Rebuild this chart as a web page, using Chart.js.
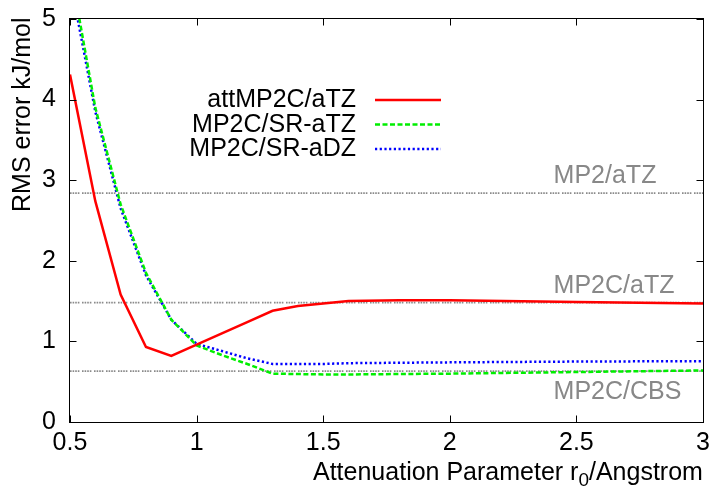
<!DOCTYPE html>
<html>
<head>
<meta charset="utf-8">
<script src="https://cdn.jsdelivr.net/npm/chart.js@4.4.1/dist/chart.umd.min.js"></script>
<style>
  html, body { margin: 0; padding: 0; background: #fff; }
  #wrap { width: 718px; height: 492px; }
</style>
</head>
<body>
<div id="wrap"><canvas id="myChart" width="718" height="492"></canvas></div>
<script>
// attenuation parameter r0 (Angstrom)
const rValues = [0.5, 0.6, 0.7, 0.8, 0.9, 1.0, 1.1, 1.2, 1.3, 1.4, 1.5, 1.6, 1.8, 2.0, 2.5, 3.0];

// RMS errors, kJ/mol
const attMP2C_aTZ = [4.31, 2.74, 1.58, 0.93, 0.82, 0.96, 1.10, 1.24, 1.38, 1.44, 1.47, 1.50, 1.51, 1.51, 1.49, 1.47];
const mp2cSR_aTZ = [5.65, 3.90, 2.70, 1.85, 1.27, 0.95, 0.83, 0.72, 0.60, 0.595, 0.59, 0.59, 0.595, 0.60, 0.62, 0.64];
const mp2cSR_aDZ = [5.50, 3.85, 2.65, 1.82, 1.27, 0.97, 0.88, 0.79, 0.72, 0.72, 0.72, 0.73, 0.735, 0.74, 0.75, 0.755];

const seriesNames = ['attMP2C/aTZ', 'MP2C/SR-aTZ', 'MP2C/SR-aDZ'];

// reference levels (horizontal lines)
const refNames = ['MP2/aTZ', 'MP2C/aTZ', 'MP2C/CBS'];
const refValues = [2.84, 1.48, 0.63];
const refLabelX = 2.41;

const xTicks = [0.5, 1, 1.5, 2, 2.5, 3];
const yTicks = [0, 1, 2, 3, 4, 5];

const FONT = '"Liberation Sans", Arial, sans-serif';

function pts(ys) {
    return rValues.map((x, i) => ({ x: x, y: ys[i] }));
}

const refDash = [1.6, 1, 1.6, 1, 1.6, 1, 1.6, 2.6];

const datasets = [
    { label: seriesNames[0], data: pts(attMP2C_aTZ), borderColor: '#ff0000', borderWidth: 2.5, borderDash: [] },
    { label: seriesNames[1], data: pts(mp2cSR_aTZ), borderColor: '#00ee00', borderWidth: 2.5, borderDash: [5, 2.5] },
    { label: seriesNames[2], data: pts(mp2cSR_aDZ), borderColor: '#0000ff', borderWidth: 2.5, borderDash: [2.2, 2.5] }
];
refValues.forEach((v, i) => {
    datasets.push({
        label: refNames[i],
        data: [{ x: xTicks[0], y: v }, { x: xTicks[xTicks.length - 1], y: v }],
        borderColor: '#8a8a8a',
        borderWidth: 1.8,
        borderDash: refDash
    });
});

// frame, inward ticks, labels, legend, axis titles
const decorations = {
    id: 'decorations',
    afterDatasetsDraw(chart) {
        const ctx = chart.ctx;
        const a = chart.chartArea;
        const xs = chart.scales.x;
        const ys = chart.scales.y;
        const L = Math.round(a.left) - 0.5, R = Math.round(a.right) + 0.5;
        const T = Math.round(a.top) - 0.5, B = Math.round(a.bottom) + 0.5;

        ctx.save();
        ctx.strokeStyle = '#000';
        ctx.lineWidth = 1;
        ctx.setLineDash([]);
        ctx.strokeRect(L, T, R - L, B - T);

        const tl = 7;
        ctx.beginPath();
        xTicks.forEach(v => {
            const px = Math.round(xs.getPixelForValue(v)) + 0.5;
            ctx.moveTo(px, B); ctx.lineTo(px, B - tl);
            ctx.moveTo(px, T); ctx.lineTo(px, T + tl);
        });
        yTicks.forEach(v => {
            const py = Math.round(ys.getPixelForValue(v)) + 0.5;
            ctx.moveTo(L, py); ctx.lineTo(L + tl, py);
            ctx.moveTo(R, py); ctx.lineTo(R - tl, py);
        });
        ctx.stroke();

        // reference labels
        ctx.font = '25px ' + FONT;
        ctx.fillStyle = '#888888';
        ctx.textAlign = 'left';
        ctx.textBaseline = 'alphabetic';
        refNames.forEach((name, i) => {
            const py = ys.getPixelForValue(refValues[i]);
            const above = i < 2;
            ctx.fillText(name, xs.getPixelForValue(refLabelX), above ? py - 10 : py + 28);
        });

        // legend
        ctx.fillStyle = '#000';
        ctx.textAlign = 'right';
        const rows = [100, 124.5, 149];
        for (let i = 0; i < 3; i++) {
            const ds = chart.data.datasets[i];
            ctx.fillText(ds.label, 356, rows[i] + 7);
            ctx.beginPath();
            ctx.strokeStyle = ds.borderColor;
            ctx.lineWidth = ds.borderWidth;
            ctx.setLineDash(ds.borderDash);
            ctx.moveTo(375, rows[i]);
            ctx.lineTo(441, rows[i]);
            ctx.stroke();
        }
        ctx.setLineDash([]);

        // y title
        ctx.save();
        ctx.translate(30, 212);
        ctx.rotate(-Math.PI / 2);
        ctx.textAlign = 'left';
        ctx.fillText('RMS error kJ/mol', 0, 0);
        ctx.restore();

        // x title with subscript
        ctx.textAlign = 'left';
        let x = 313;
        const base = 480;
        const p1 = 'Attenuation Parameter r';
        ctx.fillText(p1, x, base);
        x += ctx.measureText(p1).width;
        ctx.font = '19px ' + FONT;
        ctx.fillText('0', x, base + 6);
        x += ctx.measureText('0').width;
        ctx.font = '25px ' + FONT;
        ctx.fillText('/Angstrom', x, base);

        ctx.restore();
    }
};

new Chart(document.getElementById('myChart'), {
    type: 'line',
    data: { datasets: datasets },
    options: {
        responsive: false,
        animation: false,
        devicePixelRatio: 1,
        layout: { padding: { left: 0, top: 19, right: 15, bottom: 0 } },
        elements: { point: { radius: 0 }, line: { tension: 0 } },
        plugins: { legend: { display: false }, tooltip: { enabled: false } },
        scales: {
            x: {
                type: 'linear',
                min: 0.5,
                max: 3,
                afterBuildTicks: s => { s.ticks = xTicks.map(v => ({ value: v })); },
                afterFit: s => {
                    s.height = 70;
                    s.paddingLeft = 0; s.paddingRight = 0;
                },
                grid: { display: false, drawTicks: false },
                border: { display: false },
                ticks: {
                    color: '#000', font: { size: 25, family: FONT }, padding: 6, maxRotation: 0,
                    callback: v => String(v)
                }
            },
            y: {
                type: 'linear',
                min: 0,
                max: 5,
                afterBuildTicks: s => { s.ticks = yTicks.map(v => ({ value: v })); },
                afterFit: s => {
                    s.width = 70;
                    s.paddingTop = 0; s.paddingBottom = 0;
                },
                grid: { display: false, drawTicks: false },
                border: { display: false },
                ticks: {
                    color: '#000', font: { size: 25, family: FONT }, padding: 14,
                    callback: v => String(v)
                }
            }
        }
    },
    plugins: [decorations]
});
</script>
</body>
</html>
